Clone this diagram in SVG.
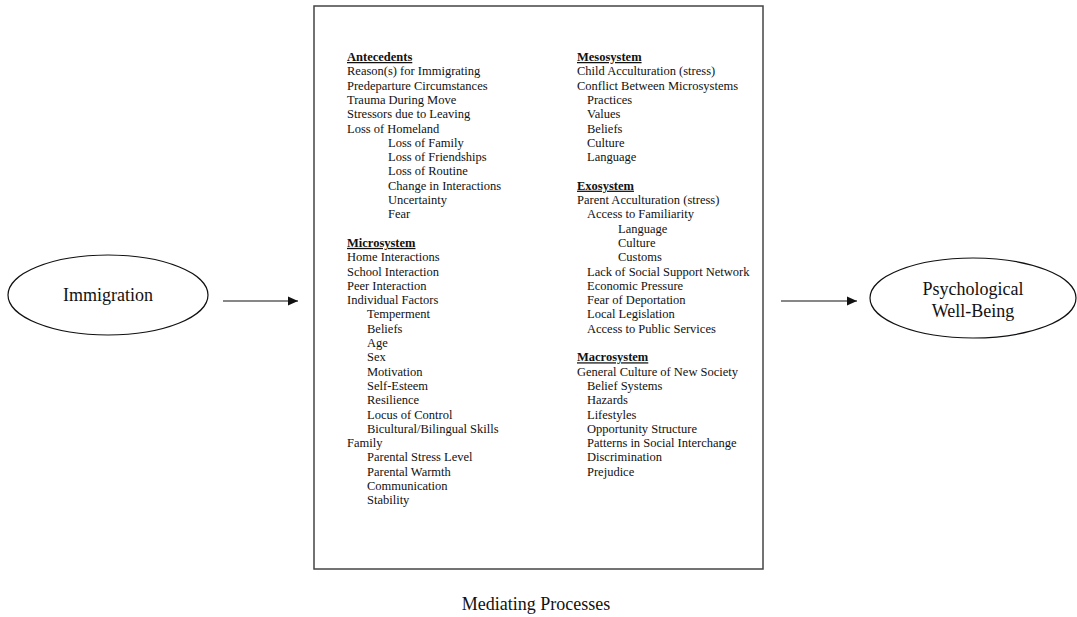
<svg xmlns="http://www.w3.org/2000/svg" width="1077" height="617" viewBox="0 0 1077 617">
<defs>
<marker id="arr" viewBox="0 0 10 10" refX="10" refY="5" markerWidth="10" markerHeight="10" markerUnits="userSpaceOnUse" orient="auto">
<path d="M0,0.5 L10,5 L0,9.5 Z" fill="#111"/>
</marker>
<style>
text{font-family:"Liberation Serif","Times New Roman",serif;fill:#111}
.t{font-size:12.5px}
.h{font-size:12.5px;font-weight:bold;text-decoration:underline}
.big{font-size:18px}
.node{fill:#fff;stroke:#111;stroke-width:1.2}
.edge{stroke:#111;stroke-width:1.2;fill:none}
</style>
</defs>
<rect width="1077" height="617" fill="#fff"/>
<g id="immigration">
<ellipse class="node" cx="108" cy="295" rx="100" ry="40"/>
<text class="big" x="108" y="301" text-anchor="middle">Immigration</text>
</g>
<g id="wellbeing">
<ellipse class="node" cx="973" cy="298" rx="103" ry="40"/>
<text class="big" x="973" y="295" text-anchor="middle">Psychological</text>
<text class="big" x="973" y="317" text-anchor="middle">Well-Being</text>
</g>
<g id="mediating">
<rect x="314" y="6" width="449" height="563" fill="#fff" stroke="#444" stroke-width="1.5"/>
<text class="big" x="536" y="610" text-anchor="middle">Mediating Processes</text>
<g id="left-column" class="t">
<text class="h" x="347" y="61">Antecedents</text>
<text class="t" x="347" y="75.3">Reason(s) for Immigrating</text>
<text class="t" x="347" y="89.6">Predeparture Circumstances</text>
<text class="t" x="347" y="103.9">Trauma During Move</text>
<text class="t" x="347" y="118.2">Stressors due to Leaving</text>
<text class="t" x="347" y="132.5">Loss of Homeland</text>
<text class="t" x="388" y="146.8">Loss of Family</text>
<text class="t" x="388" y="161.1">Loss of Friendships</text>
<text class="t" x="388" y="175.4">Loss of Routine</text>
<text class="t" x="388" y="189.7">Change in Interactions</text>
<text class="t" x="388" y="204">Uncertainty</text>
<text class="t" x="388" y="218.3">Fear</text>
<text class="h" x="347" y="246.9">Microsystem</text>
<text class="t" x="347" y="261.2">Home Interactions</text>
<text class="t" x="347" y="275.5">School Interaction</text>
<text class="t" x="347" y="289.8">Peer Interaction</text>
<text class="t" x="347" y="304.1">Individual Factors</text>
<text class="t" x="367" y="318.4">Temperment</text>
<text class="t" x="367" y="332.7">Beliefs</text>
<text class="t" x="367" y="347">Age</text>
<text class="t" x="367" y="361.3">Sex</text>
<text class="t" x="367" y="375.6">Motivation</text>
<text class="t" x="367" y="389.9">Self-Esteem</text>
<text class="t" x="367" y="404.2">Resilience</text>
<text class="t" x="367" y="418.5">Locus of Control</text>
<text class="t" x="367" y="432.8">Bicultural/Bilingual Skills</text>
<text class="t" x="347" y="447.1">Family</text>
<text class="t" x="367" y="461.4">Parental Stress Level</text>
<text class="t" x="367" y="475.7">Parental Warmth</text>
<text class="t" x="367" y="490">Communication</text>
<text class="t" x="367" y="504.3">Stability</text>
</g>
<g id="right-column">
<text class="h" x="577" y="61">Mesosystem</text>
<text class="t" x="577" y="75.3">Child Acculturation (stress)</text>
<text class="t" x="577" y="89.6">Conflict Between Microsystems</text>
<text class="t" x="587" y="103.9">Practices</text>
<text class="t" x="587" y="118.2">Values</text>
<text class="t" x="587" y="132.5">Beliefs</text>
<text class="t" x="587" y="146.8">Culture</text>
<text class="t" x="587" y="161.1">Language</text>
<text class="h" x="577" y="189.7">Exosystem</text>
<text class="t" x="577" y="204">Parent Acculturation (stress)</text>
<text class="t" x="587" y="218.3">Access to Familiarity</text>
<text class="t" x="618" y="232.6">Language</text>
<text class="t" x="618" y="246.9">Culture</text>
<text class="t" x="618" y="261.2">Customs</text>
<text class="t" x="587" y="275.5">Lack of Social Support Network</text>
<text class="t" x="587" y="289.8">Economic Pressure</text>
<text class="t" x="587" y="304.1">Fear of Deportation</text>
<text class="t" x="587" y="318.4">Local Legislation</text>
<text class="t" x="587" y="332.7">Access to Public Services</text>
<text class="h" x="577" y="361.3">Macrosystem</text>
<text class="t" x="577" y="375.6">General Culture of New Society</text>
<text class="t" x="587" y="389.9">Belief Systems</text>
<text class="t" x="587" y="404.2">Hazards</text>
<text class="t" x="587" y="418.5">Lifestyles</text>
<text class="t" x="587" y="432.8">Opportunity Structure</text>
<text class="t" x="587" y="447.1">Patterns in Social Interchange</text>
<text class="t" x="587" y="461.4">Discrimination</text>
<text class="t" x="587" y="475.7">Prejudice</text>
</g>
</g>
<g id="connectors">
<line class="edge" x1="223" y1="301" x2="298" y2="301" marker-end="url(#arr)"/>
<line class="edge" x1="781" y1="301" x2="857" y2="301" marker-end="url(#arr)"/>
</g>
</svg>
